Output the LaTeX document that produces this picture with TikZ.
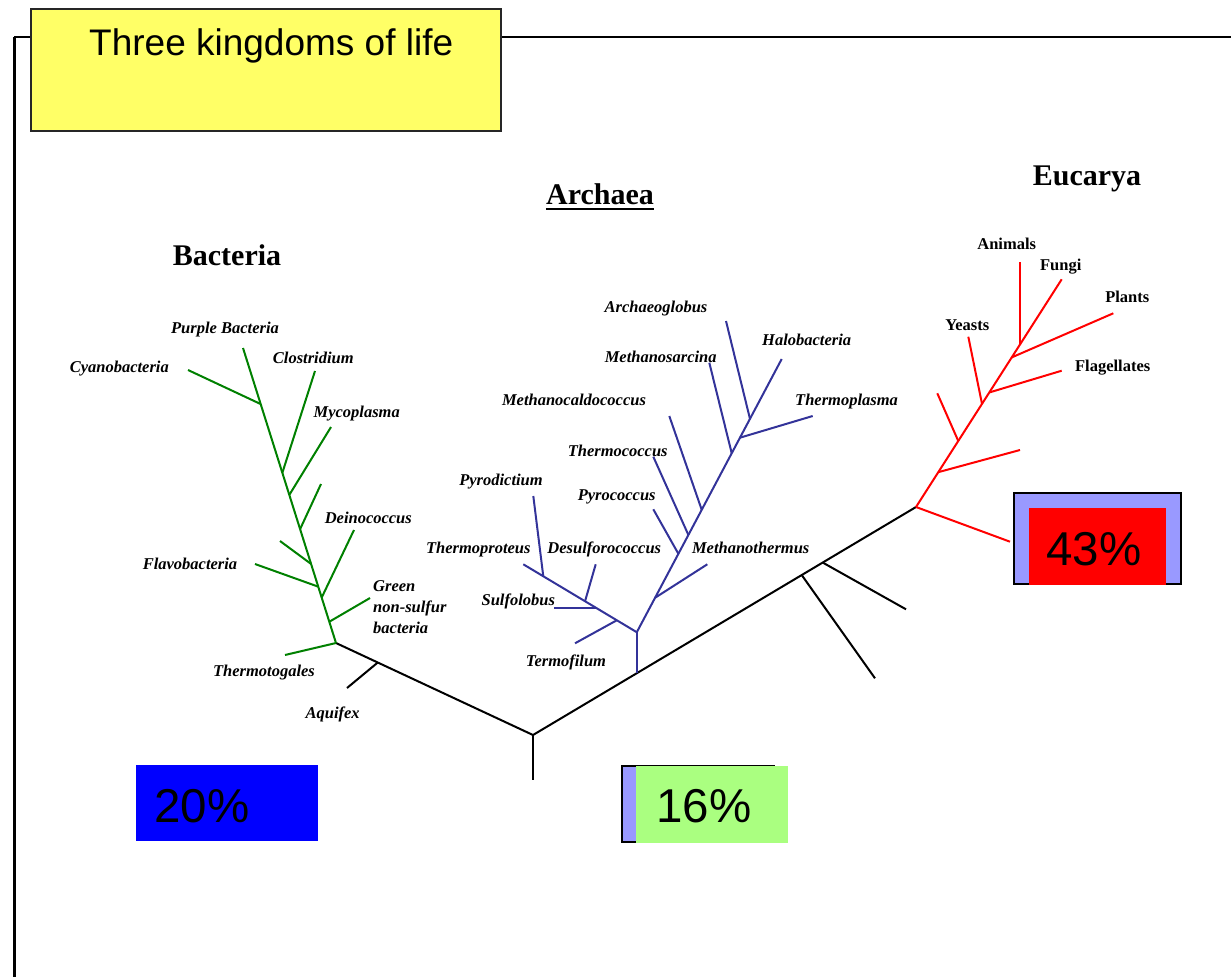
\documentclass[tikz,border=0pt]{standalone}
\usepackage{fontspec}
\setmainfont{Liberation Serif}
\newfontfamily\arialfont{Liberation Sans}
\usetikzlibrary{calc}
\definecolor{bgreen}{RGB}{0,128,0}
\definecolor{ablue}{RGB}{51,51,153}
\definecolor{ered}{RGB}{255,0,0}
\definecolor{lilac}{RGB}{153,153,255}
\definecolor{lgreen}{RGB}{170,255,128}
\definecolor{tyellow}{RGB}{255,255,102}
\definecolor{pblue}{RGB}{0,0,255}
\begin{document}
\begin{tikzpicture}[x=1pt,y=-1pt,
  bline/.style={draw=bgreen,line width=2pt},
  aline/.style={draw=ablue,line width=2pt},
  eline/.style={draw=ered,line width=2pt},
  kline/.style={draw=black,line width=2pt},
  lab/.style={inner sep=0pt,anchor=base,font=\fontsize{16.5}{19}\selectfont\bfseries\itshape},
  elab/.style={inner sep=0pt,anchor=base,font=\fontsize{16.5}{19}\selectfont\bfseries},
  head/.style={inner sep=0pt,anchor=base,font=\fontsize{30}{34}\selectfont\bfseries},
  pct/.style={inner sep=0pt,anchor=base west,font=\arialfont\fontsize{47.5}{52}\selectfont},
  pbox/.style={inner sep=0pt,anchor=north west}]
\useasboundingbox (0,0) rectangle (1231,977);
% frame
\coordinate (fr0) at (14,37);
\coordinate (fr1) at (1231,37);
\coordinate (fr2) at (14,977);
\draw[line width=2pt] (fr0) -- (fr1);
\draw[line width=3pt] (fr0) -- (fr2);
% title
\node[pbox,minimum width=470pt,minimum height=122pt,fill=tyellow,draw=black!85,line width=1.5pt] (title) at (30,8) {};
\node[inner sep=0pt,anchor=base west,font=\arialfont\fontsize{37}{42}\selectfont] (titletext) at (89,55) {Three kingdoms of life};
% headings
\node[head] (hbac) at (227,265) {Bacteria};
\node[head] (harc) at (600,204) {Archaea};
\draw[line width=2pt] ([yshift=-5pt]harc.base west) -- ([yshift=-5pt]harc.base east);
\node[head] (heuc) at (1087,185) {Eucarya};
% main black tree
\coordinate (R) at (533,735);
\coordinate (Rb) at (533,780);
\coordinate (B0) at (336,643);
\coordinate (E0) at (916,507);
\draw[kline] (B0) -- (R) -- (E0);
\draw[kline] (R) -- (Rb);
\coordinate (Aq) at ($(B0)!0.212!(R)$);
\coordinate (AqE) at (347,688);
\draw[kline] (Aq) -- (AqE);
\coordinate (N1) at ($(R)!0.7016!(E0)$);
\coordinate (N1E) at (875,678.3);
\coordinate (N2) at ($(R)!0.7564!(E0)$);
\coordinate (N2E) at (906,609.3);
\draw[kline] (N1) -- (N1E);
\draw[kline] (N2) -- (N2E);
% bacteria
\coordinate (BT) at (243,348);
\draw[bline] (B0) -- (BT);
\foreach \t/\x/\y/\n in {0.81/188/370/cy,0.577/315/371/cl,0.502/331/427/my,0.386/321/484/th,0.268/280/541/sh,0.191/255/564/fl,0.154/354/530/de,0.072/370/598/gr}{
  \coordinate (b\n) at ($(B0)!\t!(BT)$);
  \coordinate (b\n e) at (\x,\y);
  \draw[bline] (b\n) -- (b\n e);
}
\coordinate (bTe) at (285,655);
\draw[bline] (B0) -- (bTe);
% archaea
\coordinate (A0) at ($(R)!0.271!(E0)$);
\coordinate (A1) at ($(A0)+(0,-41)$);
\coordinate (AL) at (523.3,564.3);
\coordinate (AH) at (781.7,359);
\draw[aline] (A0) -- (A1);
\draw[aline] (A1) -- (AL);
\draw[aline] (A1) -- (AH);
\foreach \t/\x/\y/\n in {0.824/533.3/496/py,0.456/595.7/564.3/ds,0.176/575/643.3/tf}{
  \coordinate (al\n) at ($(A1)!\t!(AL)$);
  \coordinate (al\n e) at (\x,\y);
  \draw[aline] (al\n) -- (al\n e);
}
\coordinate (alsu) at ($(A1)!0.3616!(AL)$);
\coordinate (alsue) at (554.3,609.3);
\draw[aline] (alsu) -- (alsu -| alsue);
\foreach \t/\x/\y/\n in {0.126/707.3/564.3/mt,0.287/653.3/509.3/pc,0.356/653.3/456.7/tc,0.448/669.3/416/mc,0.655/709.3/362.7/ms,0.712/812.7/416/tp,0.781/726/321/ag}{
  \coordinate (ar\n) at ($(A1)!\t!(AH)$);
  \coordinate (ar\n e) at (\x,\y);
  \draw[aline] (ar\n) -- (ar\n e);
}
% eucarya
\coordinate (EF) at (1061.7,279.3);
\coordinate (EB) at (1010,541.7);
\draw[eline] (E0) -- (EF);
\draw[eline] (E0) -- (EB);
\foreach \t/\x/\y/\n in {0.153/1020/450/u1,0.29/937.3/393.3/u2,0.453/968.3/336.7/ye,0.503/1061.7/370.7/fl,0.657/1113.3/313.3/pl}{
  \coordinate (e\n) at ($(E0)!\t!(EF)$);
  \coordinate (e\n e) at (\x,\y);
  \draw[eline] (e\n) -- (e\n e);
}
\coordinate (ean) at ($(E0)!0.714!(EF)$);
\coordinate (eane) at (1020,262.3);
\draw[eline] (ean) -- (ean |- eane);
% bacteria labels
\node[lab] (lpb) at (225,333) {Purple Bacteria};
\node[lab] (lcy) at (119.3,372) {Cyanobacteria};
\node[lab] (lcl) at (313.3,363) {Clostridium};
\node[lab] (lmy) at (356.7,417) {Mycoplasma};
\node[lab] (lde) at (368.3,523) {Deinococcus};
\node[lab] (lfl) at (190,569) {Flavobacteria};
\node[lab,anchor=base west] (lg1) at (373,591) {Green};
\node[lab,anchor=base west] (lg2) at (373,612.5) {non-sulfur};
\node[lab,anchor=base west] (lg3) at (373,633) {bacteria};
\node[lab] (ltt) at (264,676) {Thermotogales};
\node[lab] (laq) at (332.7,718) {Aquifex};
% archaea labels
\node[lab] (lag) at (656,312.3) {Archaeoglobus};
\node[lab,anchor=base west] (lha) at (762,345) {Halobacteria};
\node[lab] (lms) at (660.7,362.7) {Methanosarcina};
\node[lab] (lmc) at (574,405) {Methanocaldococcus};
\node[lab,anchor=base west] (ltp) at (795,405) {Thermoplasma};
\node[lab] (ltc) at (617.7,456.7) {Thermococcus};
\node[lab] (lpd) at (501,485.7) {Pyrodictium};
\node[lab] (lpc) at (616.7,500.7) {Pyrococcus};
\node[lab] (ltr) at (478.3,553.3) {Thermoproteus};
\node[lab] (lds) at (604.3,553.3) {Desulforococcus};
\node[lab] (lmt) at (750.7,553.3) {Methanothermus};
\node[lab] (lsu) at (518.3,605) {Sulfolobus};
\node[lab] (ltf) at (566,666.7) {Termofilum};
% eucarya labels
\node[elab] (lan) at (1006.7,249.3) {Animals};
\node[elab] (lfu) at (1060.7,270) {Fungi};
\node[elab] (lpl) at (1127.3,302.3) {Plants};
\node[elab] (lye) at (967.3,330.7) {Yeasts};
\node[elab] (lfg) at (1112.7,371.7) {Flagellates};
% percentage boxes
\node[pbox,minimum width=182pt,minimum height=76pt,fill=pblue] (b20) at (136,765) {};
\node[pct] (t20) at (154,822) {20\%};
\node[pbox,minimum width=152pt,minimum height=76pt,fill=lilac,draw=black,line width=1.5pt] (b16a) at (621,765) {};
\node[pbox,minimum width=152pt,minimum height=77.5pt,fill=lgreen] (b16) at (636,765.5) {};
\node[pct] (t16) at (656,822) {16\%};
\node[pbox,minimum width=167pt,minimum height=91pt,fill=lilac,draw=black,line width=2pt] (b43a) at (1013,492) {};
\node[pbox,minimum width=137pt,minimum height=77pt,fill=ered] (b43) at (1029,508) {};
\node[pct] (t43) at (1046,565) {43\%};
\end{tikzpicture}
\end{document}
